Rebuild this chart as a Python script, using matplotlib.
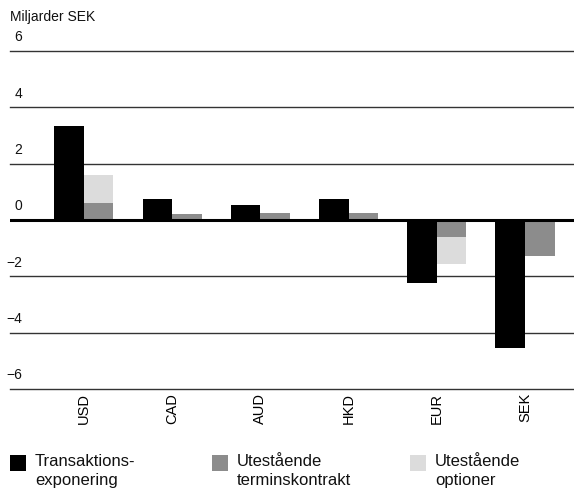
import numpy as np
import matplotlib
matplotlib.use("Agg")
import matplotlib.pyplot as plt
import matplotlib.transforms as mtrans

plt.rcParams['font.family'] = ['Liberation Sans', 'DejaVu Sans']

categories = ["USD", "CAD", "AUD", "HKD", "EUR", "SEK"]
transaktion = [3.33, 0.74, 0.53, 0.74, -2.22, -4.56]
termins = [0.60, 0.20, 0.25, 0.25, -0.59, -1.28]
optioner = [1.00, 0.0, 0.0, 0.0, -0.96, 0.0]
yticks = [-6, -4, -2, 0, 2, 4, 6]
ytick_labels = ["\u22126", "\u22124", "\u22122", "0", "2", "4", "6"]
legend_labels = ["Transaktions-\nexponering", "Utestående\nterminskontrakt", "Utestående\noptioner"]
colors = ["#000000", "#8c8c8c", "#dcdcdc"]

fig = plt.figure(figsize=(5.74, 4.9), dpi=100)
ax = fig.add_axes([10/574, 1 - 389/490, 1 - 10/574, (389 - 51)/490])

x = np.arange(len(categories))
w = 0.335
ax.bar(x - w/2, transaktion, width=w, color=colors[0], zorder=3)
ax.bar(x + w/2, termins, width=w, color=colors[1], zorder=3)
ax.bar(x + w/2, optioner, width=w, bottom=termins, color=colors[2], zorder=3)

ax.set_xlim(-0.5 - w/2 - 0.17, len(categories) - 1 + w + 0.22)
ax.set_ylim(-6, 6)

for v in yticks:
    if v == 0:
        ax.axhline(v, color="#000000", lw=2.2, zorder=4)
    else:
        ax.axhline(v, color="#333333", lw=1.0, zorder=1, clip_on=False)

trans = mtrans.blended_transform_factory(ax.transAxes, ax.transData)
for v, lab in zip(yticks, ytick_labels):
    ax.text(12/564, v + 0.24, lab, transform=trans, ha="right", va="bottom",
            fontsize=10, color="#111111")

ax.set_yticks([])
ax.set_xticks(x)
ax.set_xticklabels(categories, rotation=90, fontsize=10.5, va="top")
ax.tick_params(axis="x", length=0, pad=3)
for s in ax.spines.values():
    s.set_visible(False)

fig.text(10/574, 1 - 17/490, "Miljarder SEK", fontsize=10, ha="left", va="center", color="#111111")

xs = [10/574, 212/574, 410/574]
for h_x, c, lab in zip(xs, colors, legend_labels):
    fig.patches.append(plt.Rectangle((h_x, 1 - 471/490), 16/574, 16/490,
                                     transform=fig.transFigure, facecolor=c, edgecolor="none"))
    fig.text(h_x + 25/574, 1 - 454/490, lab, fontsize=12, ha="left", va="top",
             linespacing=1.3, color="#111111")

fig.savefig("out.png", dpi=100, facecolor="white")
